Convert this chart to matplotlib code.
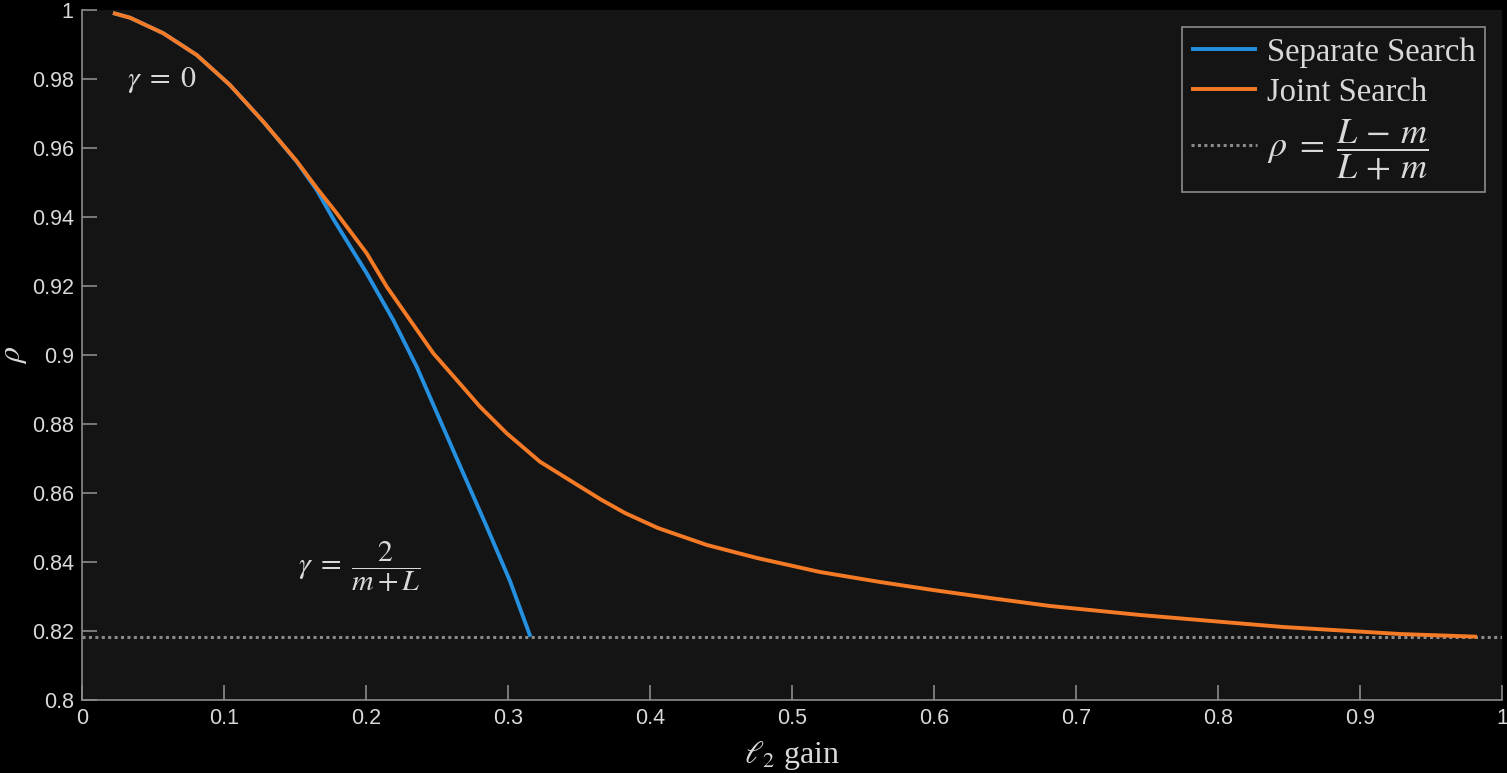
import matplotlib
matplotlib.use("Agg")
import matplotlib.pyplot as plt
from matplotlib.ticker import FuncFormatter

# ---------------- data ----------------
sep_gain = [0.0218, 0.0338, 0.0573, 0.0808, 0.1042, 0.1277, 0.1512, 0.1653,
            0.1770, 0.2005, 0.2192, 0.2357, 0.2521, 0.2685, 0.2850, 0.3014, 0.3158]
sep_rho = [0.99913, 0.99777, 0.99325, 0.98696, 0.97826, 0.96762, 0.95603, 0.94783,
           0.93942, 0.92368, 0.91014, 0.89661, 0.88116, 0.86571, 0.85023, 0.83449, 0.81835]

joint_gain = [0.0218, 0.0338, 0.0573, 0.0808, 0.1042, 0.1277, 0.1512, 0.1653,
              0.1794, 0.2005, 0.2146, 0.2310, 0.2474, 0.2639, 0.2803, 0.2991,
              0.3225, 0.3648, 0.3824, 0.4056, 0.4401, 0.4754, 0.5197, 0.5620,
              0.5993, 0.6394, 0.6817, 0.7028, 0.7451, 0.8035, 0.8458, 0.8930,
              0.9282, 0.9824]
joint_rho = [0.99913, 0.99777, 0.99325, 0.98696, 0.97826, 0.96762, 0.95620, 0.94841,
             0.94107, 0.92948, 0.91980, 0.91014, 0.90049, 0.89275, 0.88501, 0.87730,
             0.86907, 0.85826, 0.85420, 0.84985, 0.84493, 0.84116, 0.83710, 0.83420,
             0.83188, 0.82957, 0.82725, 0.82638, 0.82464, 0.82261, 0.82116, 0.82000,
             0.81913, 0.81835]

bound_rho = 0.8182

x_ticks = [0, 0.1, 0.2, 0.3, 0.4, 0.5, 0.6, 0.7, 0.8, 0.9, 1]
y_ticks = [0.8, 0.82, 0.84, 0.86, 0.88, 0.9, 0.92, 0.94, 0.96, 0.98, 1]

labels = ["Separate Search", "Joint Search", r"$\rho\;=\;\dfrac{L\,-\,m}{L\,+\,m}$"]

# ---------------- style ----------------
plt.rcParams['mathtext.fontset'] = 'stix'
plt.rcParams['font.family'] = ['Liberation Serif', 'DejaVu Serif']

BLUE = '#2590e0'
ORANGE = '#f47a25'
GRAY = '#8a8a8a'
TXT = '#d9d9d9'
SPINE = '#8c8c8c'

fig = plt.figure(figsize=(15.07, 7.73), dpi=100, facecolor='black')
ax = fig.add_axes([82/1507, 1 - 700/773, 1420/1507, 690/773])
ax.set_facecolor('#141414')

ax.plot(sep_gain, sep_rho, color=BLUE, lw=2.8, label=labels[0], solid_capstyle='butt',
        solid_joinstyle='round', zorder=3)
ax.plot(joint_gain, joint_rho, color=ORANGE, lw=2.8, label=labels[1], solid_capstyle='butt',
        solid_joinstyle='round', zorder=4)
ax.axhline(bound_rho, color=GRAY, lw=2.2, linestyle=(0, (1, 1.1)), label=labels[2], zorder=2)

ax.set_xlim(0, 1)
ax.set_ylim(0.8, 1)
ax.set_xticks(x_ticks)
ax.set_yticks(y_ticks)
fmt = FuncFormatter(lambda v, p: ('%g' % round(v, 4)))
ax.xaxis.set_major_formatter(fmt)
ax.yaxis.set_major_formatter(fmt)

for s in ['top', 'right']:
    ax.spines[s].set_visible(False)
for s in ['left', 'bottom']:
    ax.spines[s].set_color(SPINE)
    ax.spines[s].set_linewidth(1.2)

ax.tick_params(direction='in', length=10.5, width=1.2, color=SPINE, labelcolor=TXT,
               labelsize=15.5, pad=6)
for lab in ax.get_xticklabels() + ax.get_yticklabels():
    lab.set_fontfamily(['Liberation Sans', 'DejaVu Sans'])

ax.set_xlabel(r"$\ell_2$ gain", fontsize=23, color=TXT, labelpad=7)
ax.set_ylabel(r"$\rho$", fontsize=23, color=TXT)
ax.yaxis.set_label_coords(-0.037, 0.5)

ax.text(0.032, 0.9797, r"$\gamma\;=\;0$", fontsize=21.5, color=TXT, ha='left', va='center')
ax.text(0.152, 0.8385, r"$\gamma\;=\;\dfrac{2}{m+L}$", fontsize=21.5, color=TXT,
        ha='left', va='center')

leg = ax.legend(loc='upper right', bbox_to_anchor=(0.988, 0.975), borderaxespad=0,
                fontsize=23.5, frameon=True, fancybox=False, framealpha=1,
                facecolor='#141414', edgecolor=SPINE, handlelength=2.0,
                handletextpad=0.3, borderpad=0.3, labelspacing=0.3)
leg.get_frame().set_linewidth(1.2)
for t in leg.get_texts():
    t.set_color(TXT)
leg.get_texts()[2].set_fontsize(26)

fig.savefig('out.png', dpi=100, facecolor='black')
